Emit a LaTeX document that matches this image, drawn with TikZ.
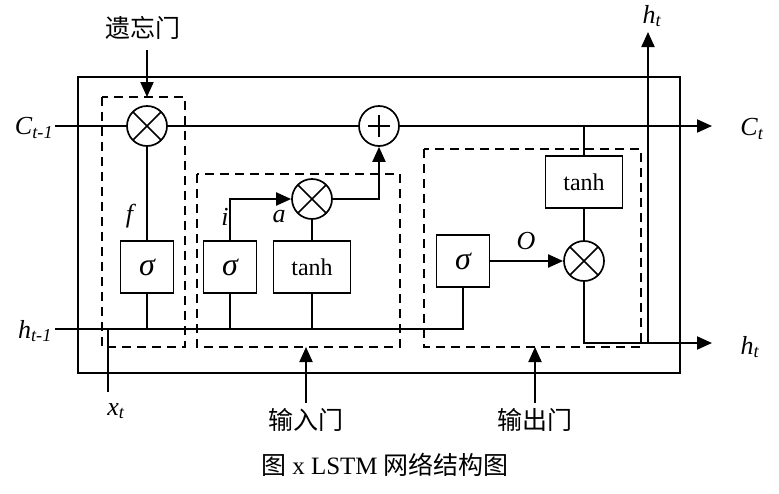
\documentclass[tikz,border=0pt]{standalone}
\usepackage{fontspec}
\setmainfont{Liberation Serif}
\newfontfamily\cjk{Noto Sans CJK SC}
\usetikzlibrary{arrows.meta}
\newcommand{\lbl}[2]{\textit{#1}\textsubscript{\textit{#2}}}
\begin{document}
\begin{tikzpicture}[x=1pt,y=-1pt,
  ln/.style={line width=1.7pt},
  arr/.style={line width=2pt,-{Triangle[length=15pt,width=13pt]}},
  gatebox/.style={line width=1.7pt,dash pattern=on 9pt off 6pt},
  fbox/.style={draw,line width=1.7pt,minimum width=53pt,minimum height=52pt,inner sep=0pt,font=\fontsize{32}{32}\selectfont\itshape},
  tbox/.style={draw,line width=1.7pt,minimum width=77pt,minimum height=52pt,inner sep=0pt,font=\fontsize{24}{24}\selectfont},
  mult/.style={draw,circle,line width=1.7pt,minimum size=40pt,inner sep=0pt,
    path picture={\draw[line width=1.6pt] (path picture bounding box.north west)--(path picture bounding box.south east)
      (path picture bounding box.north east)--(path picture bounding box.south west);}},
  addc/.style={draw,circle,line width=1.7pt,minimum size=40pt,inner sep=0pt},
  lab/.style={font=\fontsize{26}{26}\selectfont},
  cn/.style={font=\cjk\fontsize{25}{25}\selectfont}]
\useasboundingbox (0,0) rectangle (779,493);
% outer box
\draw[line width=1.7pt] (78,77) rectangle (680,373);
% gate boxes
\draw[gatebox] (102,97) rectangle (185,347);
\draw[gatebox] (197,174) rectangle (400,347);
\draw[gatebox] (424,149) rectangle (641,347);
% nodes
\node[mult] (fm) at (147,126) {};
\node[addc] (pl) at (379,126) {};
\draw[ln] ([xshift=-11pt]pl.center)--([xshift=11pt]pl.center)
  ([yshift=-11pt]pl.center)--([yshift=11pt]pl.center);
\node[mult] (im) at (312,199) {};
\node[mult] (om) at (584,261) {};
\node[fbox] (fs) at (147,267) {σ};
\node[fbox] (is) at (230,267) {σ};
\node[tbox] (it) at (312,267) {tanh};
\node[fbox] (os) at (463,261) {σ};
\node[tbox] (ot) at (584,182) {tanh};
% coordinates
\coordinate (cin) at (55,126);
\coordinate (cout) at (712,126);
\coordinate (hin) at (55,329);
\coordinate (hturn) at (463,329);
\coordinate (xt) at (108,392);
\coordinate (xtop) at (108,329);
\coordinate (hout) at (712,343);
\coordinate (hup) at (648,343);
\coordinate (htop) at (648,32);
\coordinate (ctap) at (584,126);
\coordinate (fg) at (147,50);
\coordinate (fgt) at (147,97);
\coordinate (ig) at (306,403);
\coordinate (igt) at (306,347);
\coordinate (og) at (535,403);
\coordinate (ogt) at (535,347);
% cell state line
\draw[ln] (cin) -- (fm.west);
\draw[ln] (fm.east) -- (pl.west);
\draw[arr] (pl.east) -- (cout);
% hidden input line
\draw[ln] (hin) -- (hturn) -- (os.south);
\draw[ln] (xtop) -- (xt);
\draw[ln] (fs.south) -- (fs.south |- hin);
\draw[ln] (is.south) -- (is.south |- hin);
\draw[ln] (it.south) -- (it.south |- hin);
\draw[ln] (fs.north) -- (fm.south);
% input gate
\draw[arr] (is.north) |- (im.west);
\draw[ln] (it.north) -- (im.south);
\draw[arr] (im.east) -| (pl.south);
% output gate
\draw[ln] (ctap) -- (ot.north);
\draw[ln] (ot.south) -- (om.north);
\draw[arr] (os.east) -- (om.west);
\draw[arr] (om.south) |- (hout);
\draw[arr] (hup) -- (htop);
% gate arrows
\draw[arr] (fg) -- (fgt);
\draw[arr] (ig) -- (igt);
\draw[arr] (og) -- (ogt);
% labels
\node[lab] (lc1) at (34,128) {\lbl{C}{t-1}};
\node[lab] (lh1) at (35,331) {\lbl{h}{t-1}};
\node[lab] (lct) at (752,129) {\lbl{C}{t}};
\node[lab] (lht) at (750,347) {\lbl{h}{t}};
\node[lab] (lht2) at (652,16) {\lbl{h}{t}};
\node[lab] (lxt) at (116,411) {\lbl{x}{t}};
\node[lab] (lf) at (131,216) {\textit{f}};
\node[lab] (li) at (225,217) {\textit{i}};
\node[lab] (la) at (279,217) {\textit{a}};
\node[lab] (lo) at (526,241) {\textit{O}};
\node[cn] (fgl) at (143,28) {遗忘门};
\node[cn] (igl) at (306,420) {输入门};
\node[cn] (ogl) at (535,420) {输出门};
\node (cap) at (385,465) {\fontsize{25}{25}\selectfont{\cjk 图} x LSTM {\cjk 网络结构图}};
\end{tikzpicture}
\end{document}
